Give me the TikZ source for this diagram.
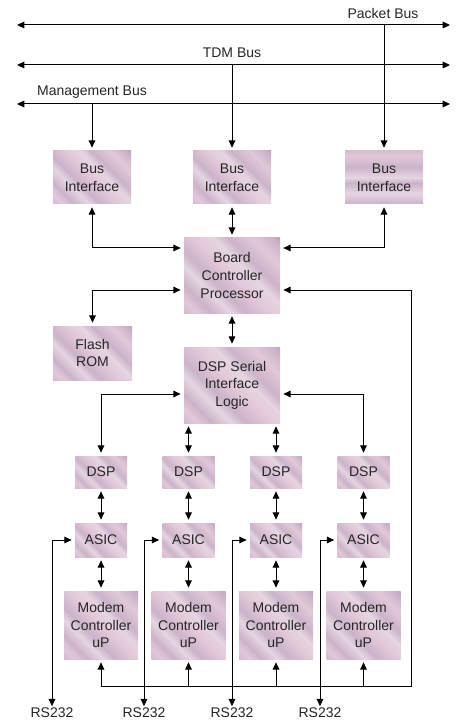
\documentclass[tikz,border=0pt]{standalone}
\usepackage{fontspec}
\setmainfont{Liberation Sans}
\usetikzlibrary{arrows.meta}
\definecolor{boxdk}{RGB}{176,143,174}
\definecolor{boxmd}{RGB}{203,179,201}
\definecolor{boxlt}{RGB}{229,213,225}
\definecolor{boxpk}{RGB}{226,200,216}
\pgfdeclarehorizontalshading{streaks}{100bp}{color(0bp)=(boxdk); color(12bp)=(boxmd);
  color(20bp)=(boxpk); color(26bp)=(boxmd); color(34bp)=(boxlt); color(40bp)=(boxmd);
  color(50bp)=(boxpk); color(58bp)=(boxlt); color(64bp)=(boxmd); color(74bp)=(boxpk);
  color(82bp)=(boxmd); color(90bp)=(boxdk); color(100bp)=(boxdk)}
\pgfdeclarehorizontalshading{bars}{100bp}{color(0bp)=(boxdk); color(10bp)=(boxmd);
  color(15bp)=(boxdk); color(25bp)=(boxmd); color(35bp)=(boxlt); color(45bp)=(boxmd);
  color(50bp)=(boxlt); color(60bp)=(boxmd); color(70bp)=(boxpk); color(80bp)=(boxmd);
  color(90bp)=(boxdk); color(100bp)=(boxdk)}
\tikzset{
  blk/.style={shading=streaks, shading angle=45, inner sep=0pt, outer sep=2.5pt,
    align=center, text=black!85, font=\fontsize{10.5}{13.2}\selectfont},
  lbl/.style={inner sep=1pt, font=\fontsize{10.5}{13}\selectfont, text=black!85},
}
\begin{document}
\begin{tikzpicture}[x=0.75pt, y=-0.75pt, line width=0.75pt,
    >={Triangle[length=5.5pt,width=5pt]}]
  \useasboundingbox (0,0) rectangle (462,723);

  % buses
  \coordinate (pbl) at (17,25);
  \coordinate (pbr) at (450,25);
  \coordinate (tbl) at (17,65);
  \coordinate (tbr) at (450,65);
  \coordinate (mbl) at (17,104);
  \coordinate (mbr) at (450,104);
  \node[lbl] (pb) at (383,14) {Packet Bus};
  \node[lbl] (tb) at (232,53) {TDM Bus};
  \node[lbl] (mb) at (92,92) {Management Bus};
  \draw[<->] (pbl) -- (pbr);
  \draw[<->] (tbl) -- (tbr);
  \draw[<->] (mbl) -- (mbr);

  % board level
  \node[blk, minimum width=58.5pt, minimum height=39.75pt] (bi1) at (92,177.5) {Bus\\Interface};
  \node[blk, minimum width=58.5pt, minimum height=39.75pt] (bi2) at (232,177.5) {Bus\\Interface};
  \node[blk, shading=bars, shading angle=90, minimum width=58.5pt, minimum height=39.75pt] (bi3) at (384,177.5) {Bus\\Interface};
  \node[blk, minimum width=72pt, minimum height=56.25pt] (bcp) at (232,275.5) {Board\\Controller\\Processor};
  \node[blk, minimum width=59.25pt, minimum height=40.5pt] (rom) at (92.5,353) {Flash\\ROM};
  \node[blk, minimum width=72pt, minimum height=57pt] (dsl) at (232,385) {DSP Serial\\Interface\\Logic};

  \draw[->] (bi1 |- mbl) -- (bi1.north);
  \draw[->] (bi2 |- tbl) -- (bi2.north);
  \draw[->] (bi3 |- pbl) -- (bi3.north);

  \coordinate (r1) at (0,248);
  \coordinate (r2) at (0,290);
  \coordinate (r3) at (0,394);
  \coordinate (br) at (411,686);
  \draw[<->] (bi1.south) |- (bcp.west |- r1);
  \draw[<->] (bi2) -- (bcp);
  \draw[<->] (bi3.south) |- (bcp.east |- r1);
  \draw[<->] (bcp.west |- r2) -| (rom.north);
  \draw[<->] (bcp) -- (dsl);

  % modem channels
  \node[blk, minimum width=39pt, minimum height=24pt] (dsp1) at (101,472) {DSP};
  \node[blk, minimum width=39pt, minimum height=24pt] (dsp2) at (188.5,472) {DSP};
  \node[blk, minimum width=39pt, minimum height=24pt] (dsp3) at (276,472) {DSP};
  \node[blk, minimum width=39pt, minimum height=24pt] (dsp4) at (363.5,472) {DSP};
  \node[blk, minimum width=39pt, minimum height=25.5pt] (asic1) at (101,540) {ASIC};
  \node[blk, minimum width=39pt, minimum height=25.5pt] (asic2) at (188.5,540) {ASIC};
  \node[blk, minimum width=39pt, minimum height=25.5pt] (asic3) at (276,540) {ASIC};
  \node[blk, minimum width=39pt, minimum height=25.5pt] (asic4) at (363.5,540) {ASIC};
  \node[blk, minimum width=55.5pt, minimum height=51pt] (mc1) at (101,625) {Modem\\Controller\\uP};
  \node[blk, minimum width=55.5pt, minimum height=51pt] (mc2) at (188.5,625) {Modem\\Controller\\uP};
  \node[blk, minimum width=55.5pt, minimum height=51pt] (mc3) at (276,625) {Modem\\Controller\\uP};
  \node[blk, minimum width=55.5pt, minimum height=51pt] (mc4) at (363.5,625) {Modem\\Controller\\uP};
  \node[lbl] (rs1) at (52,713) {RS232};
  \node[lbl] (rs2) at (144,713) {RS232};
  \node[lbl] (rs3) at (232,713) {RS232};
  \node[lbl] (rs4) at (320,713) {RS232};

  \draw[<->] (dsl.west |- r3) -| (dsp1.north);
  \draw[<->] (dsl.south -| dsp2) -- (dsp2.north);
  \draw[<->] (dsl.south -| dsp3) -- (dsp3.north);
  \draw[<->] (dsl.east |- r3) -| (dsp4.north);

  \draw[<->] (dsp1) -- (asic1);
  \draw[<->] (dsp2) -- (asic2);
  \draw[<->] (dsp3) -- (asic3);
  \draw[<->] (dsp4) -- (asic4);
  \draw[<->] (asic1) -- (mc1);
  \draw[<->] (asic2) -- (mc2);
  \draw[<->] (asic3) -- (mc3);
  \draw[<->] (asic4) -- (mc4);

  \draw[<->] (bcp.east |- r2) -| (br) -| (mc1.south);
  \draw[->] (mc2 |- br) -- (mc2.south);
  \draw[->] (mc3 |- br) -- (mc3.south);
  \draw[->] (mc4 |- br) -- (mc4.south);

  \draw[<->] (asic1.west) -| (rs1.north);
  \draw[<->] (asic2.west) -| (rs2.north);
  \draw[<->] (asic3.west) -| (rs3.north);
  \draw[<->] (asic4.west) -| (rs4.north);
\end{tikzpicture}
\end{document}
